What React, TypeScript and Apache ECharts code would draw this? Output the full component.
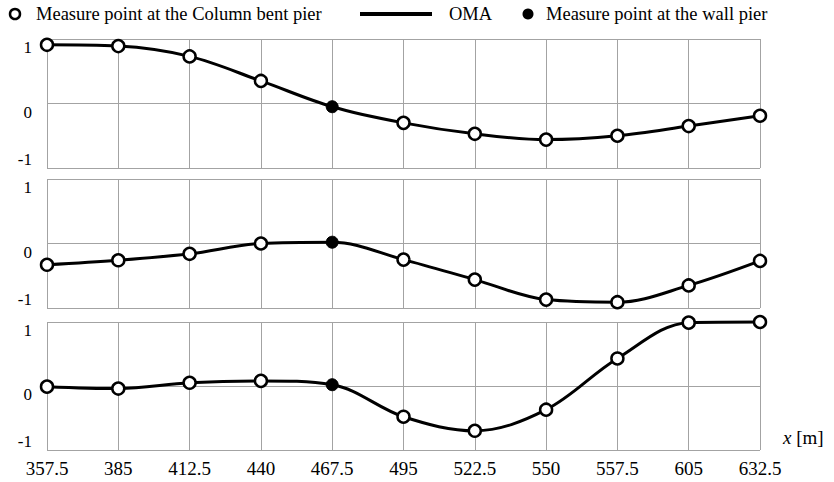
import React, { useEffect, useRef } from "react";
import * as echarts from "echarts";

const categories = ["357.5", "385", "412.5", "440", "467.5", "495", "522.5", "550", "557.5", "605", "632.5"];
const mode1 = [0.91, 0.89, 0.73, 0.35, -0.05, -0.3, -0.47, -0.56, -0.5, -0.35, -0.19];
const mode2 = [-0.33, -0.26, -0.16, 0.0, 0.02, -0.25, -0.56, -0.87, -0.91, -0.65, -0.27];
const mode3 = [-0.01, -0.04, 0.05, 0.08, 0.02, -0.48, -0.7, -0.37, 0.43, 0.99, 1.0];
const wallPierIndex = 4;
const yTicks = [-1, 0, 1];

const legendNames = ["Measure point at the Column bent pier", "OMA", "Measure point at the wall pier"];

const FONT = "'Liberation Serif', 'Times New Roman', serif";
const GRID_COLOR = "#a3a3a3";

export default function App() {
  const ref = useRef<HTMLDivElement>(null);

  useEffect(() => {
    if (!ref.current) return;
    const chart = echarts.init(ref.current, null, { renderer: "svg" });
    const modes = [mode1, mode2, mode3];
    const grids = [
      { left: 47, width: 713, top: 39, height: 129 },
      { left: 47, width: 713, top: 179, height: 129 },
      { left: 47, width: 713, top: 322, height: 128 },
    ];

    const xAxis = modes.map((_, i) => ({
      type: "category",
      gridIndex: i,
      data: categories,
      boundaryGap: false,
      axisLine: { show: false },
      axisTick: { show: false },
      splitLine: { show: true, lineStyle: { color: GRID_COLOR, width: 1 } },
      axisLabel: {
        show: i === 2,
        fontSize: 19,
        fontFamily: FONT,
        color: "#000",
        margin: 9,
        interval: 0,
      },
    }));

    const yAxis = modes.map((_, i) => ({
      type: "value",
      gridIndex: i,
      min: yTicks[0],
      max: yTicks[yTicks.length - 1],
      interval: 1,
      axisLine: { show: false },
      axisTick: { show: false },
      splitLine: { show: true, lineStyle: { color: GRID_COLOR, width: 1 } },
      axisLabel: {
        fontSize: 17,
        fontFamily: FONT,
        color: "#000",
        margin: 15,
        verticalAlign: "top",
        verticalAlignMinLabel: "bottom",
        verticalAlignMaxLabel: "top",
      },
    }));

    const series: any[] = [];
    modes.forEach((m, i) => {
      series.push({
        name: legendNames[1],
        type: "line",
        xAxisIndex: i,
        yAxisIndex: i,
        data: m,
        smooth: 0.35,
        showSymbol: false,
        clip: false,
        lineStyle: { color: "#000", width: 3 },
        z: 2,
      });
      series.push({
        name: legendNames[0],
        type: "scatter",
        xAxisIndex: i,
        yAxisIndex: i,
        data: m.map((v, j) => (j === wallPierIndex ? "-" : v)),
        symbol: "circle",
        symbolSize: 12,
        clip: false,
        itemStyle: { color: "#fff", borderColor: "#000", borderWidth: 2.5, opacity: 1 },
        z: 3,
      });
      series.push({
        name: legendNames[2],
        type: "scatter",
        xAxisIndex: i,
        yAxisIndex: i,
        data: m.map((v, j) => (j === wallPierIndex ? v : "-")),
        symbol: "circle",
        symbolSize: 12,
        clip: false,
        itemStyle: { color: "#000", borderColor: "#000", borderWidth: 1, opacity: 1 },
        z: 3,
      });
    });

    const legendY = 14;
    const graphic: any[] = [
      {
        type: "circle",
        shape: { cx: 15, cy: legendY, r: 5 },
        style: { fill: "#fff", stroke: "#000", lineWidth: 2.5 },
      },
      {
        type: "text",
        x: 36,
        y: legendY,
        style: { text: legendNames[0], font: `18.5px ${FONT}`, fill: "#000", verticalAlign: "middle" },
      },
      {
        type: "line",
        shape: { x1: 360, y1: legendY, x2: 432, y2: legendY },
        style: { stroke: "#000", lineWidth: 4 },
      },
      {
        type: "text",
        x: 449,
        y: legendY,
        style: { text: legendNames[1], font: `18.5px ${FONT}`, fill: "#000", verticalAlign: "middle" },
      },
      {
        type: "circle",
        shape: { cx: 528, cy: legendY, r: 5.5 },
        style: { fill: "#000" },
      },
      {
        type: "text",
        x: 546,
        y: legendY,
        style: { text: legendNames[2], font: `18.5px ${FONT}`, fill: "#000", verticalAlign: "middle" },
      },
      {
        type: "text",
        x: 783,
        y: 437,
        style: {
          text: "{i|x} [m]",
          font: `19px ${FONT}`,
          fill: "#000",
          verticalAlign: "middle",
          rich: { i: { fontStyle: "italic", fontSize: 19, fontFamily: FONT } },
        },
      },
    ];

    chart.setOption({
      animation: false,
      backgroundColor: "#fff",
      textStyle: { fontFamily: FONT },
      grid: grids,
      xAxis,
      yAxis,
      series,
      graphic,
    });

    return () => chart.dispose();
  }, []);

  return <div ref={ref} style={{ position: "fixed", left: 0, top: 0, width: 834, height: 482 }} />;
}
